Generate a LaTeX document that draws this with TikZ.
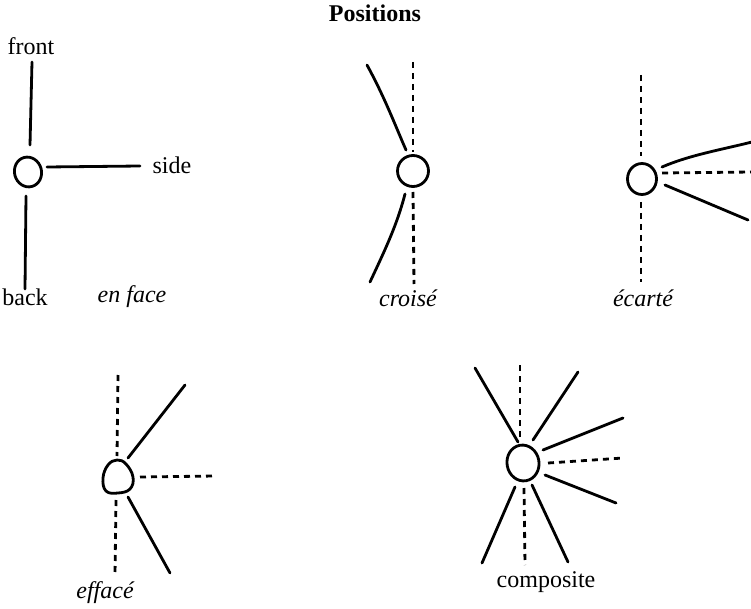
\documentclass[tikz,border=0pt]{standalone}
\usepackage{fontspec}
\setmainfont{Liberation Serif}
\usetikzlibrary{shapes.geometric}
\begin{document}
\begin{tikzpicture}[x=1pt,y=-1pt,
  limb/.style={line width=2.8pt,line cap=round},
  dlimb/.style={line width=2.8pt,dash pattern=on 6pt off 5pt},
  head/.style={draw,line width=2.8pt,ellipse,inner sep=0pt},
  lbl/.style={font=\fontsize{24}{28}\selectfont},
  ilbl/.style={font=\fontsize{24}{28}\selectfont\itshape}]
\useasboundingbox (0,0) rectangle (751,609);
\node[font=\fontsize{24}{28}\selectfont\bfseries] (title) at (375,13) {Positions};

% en face
\node[head,minimum width=27pt,minimum height=30pt,rotate=15] (h1) at (28,172) {};
\coordinate (f1a) at (32,62); \coordinate (f1b) at (30,145);
\coordinate (s1a) at (47,167); \coordinate (s1b) at (140,166);
\coordinate (b1a) at (26,196); \coordinate (b1b) at (25,289);
\draw[limb] (f1a) -- (f1b);
\draw[limb] (s1a) -- (s1b);
\draw[limb] (b1a) -- (b1b);
\node[lbl] (front) at (31,46) {front};
\node[lbl,anchor=west] (side) at (149,165) {side};
\node[lbl] (back) at (25,297) {back};
\node[ilbl] (enface) at (132,297) {en face};

% croise
\node[head,minimum width=31pt,minimum height=31pt] (h2) at (413,171) {};
\coordinate (c2t) at (413,62); \coordinate (c2tb) at (413,152);
\coordinate (c2b) at (413,192); \coordinate (c2bb) at (414,284);
\draw[dlimb] (c2t) -- (c2tb);
\draw[dlimb] (c2b) -- (c2bb);
\coordinate (c2s1) at (367,65); \coordinate (c2s2) at (406,150);
\coordinate (c2s3) at (405,194); \coordinate (c2s4) at (370,282);
\draw[limb] (c2s1) .. controls (385,98) and (395,125) .. (c2s2);
\draw[limb] (c2s3) .. controls (397,225) and (385,250) .. (c2s4);
\node[ilbl] (croise) at (408,298) {croisé};

% ecarte
\node[head,minimum width=29pt,minimum height=31pt] (h3) at (642,179) {};
\coordinate (e3t) at (641,75); \coordinate (e3tb) at (641,156);
\coordinate (e3b) at (641,202); \coordinate (e3bb) at (641,282);
\draw[dlimb] (e3t) -- (e3tb);
\draw[dlimb] (e3b) -- (e3bb);
\coordinate (e3u1) at (662,167); \coordinate (e3u2) at (752,142);
\coordinate (e3m1) at (662,173); \coordinate (e3m2) at (752,172);
\coordinate (e3l1) at (665,185); \coordinate (e3l2) at (748,220);
\draw[limb] (e3u1) .. controls (690,155) and (720,150) .. (e3u2);
\draw[dlimb] (e3m1) -- (e3m2);
\draw[limb] (e3l1) -- (e3l2);
\node[ilbl] (ecarte) at (643,298) {écarté};

% efface
\coordinate (h4) at (119,477);
\draw[line width=2.8pt] plot[smooth cycle,tension=0.7] coordinates
  {(117,460) (126,464) (133,477) (130,489) (118,493) (106,491) (103,478) (108,465)};
\coordinate (a4t) at (118,375); \coordinate (a4tb) at (117,456);
\coordinate (a4b) at (116,500); \coordinate (a4bb) at (115,575);
\draw[dlimb] (a4t) -- (a4tb);
\draw[dlimb] (a4b) -- (a4bb);
\coordinate (a4u1) at (128,458); \coordinate (a4u2) at (185,385);
\coordinate (a4m1) at (140,477); \coordinate (a4m2) at (215,476);
\coordinate (a4l1) at (128,497); \coordinate (a4l2) at (170,573);
\draw[limb] (a4u1) -- (a4u2);
\draw[dlimb] (a4m1) -- (a4m2);
\draw[limb] (a4l1) -- (a4l2);
\node[ilbl] (effacelbl) at (105,593) {effacé};

% composite
\node[head,minimum width=32pt,minimum height=36pt,rotate=10] (h5) at (523,463) {};
\coordinate (k1) at (520,365); \coordinate (k2) at (520,440);
\coordinate (k3) at (524,488); \coordinate (k4) at (525,565);
\draw[dlimb] (k1) -- (k2);
\draw[dlimb] (k3) -- (k4);
\coordinate (k5) at (475,368); \coordinate (k6) at (518,442);
\coordinate (k7) at (578,372); \coordinate (k8) at (533,440);
\coordinate (k9) at (543,450); \coordinate (k10) at (623,418);
\coordinate (k11) at (548,463); \coordinate (k12) at (623,458);
\coordinate (k13) at (545,475); \coordinate (k14) at (616,503);
\coordinate (k15) at (515,487); \coordinate (k16) at (482,563);
\coordinate (k17) at (532,485); \coordinate (k18) at (568,562);
\draw[limb] (k5) -- (k6);
\draw[limb] (k7) -- (k8);
\draw[limb] (k9) -- (k10);
\draw[dlimb] (k11) -- (k12);
\draw[limb] (k13) -- (k14);
\draw[limb] (k15) -- (k16);
\draw[limb] (k17) -- (k18);
\node[lbl] (composite) at (546,582) {composite};
\end{tikzpicture}
\end{document}
